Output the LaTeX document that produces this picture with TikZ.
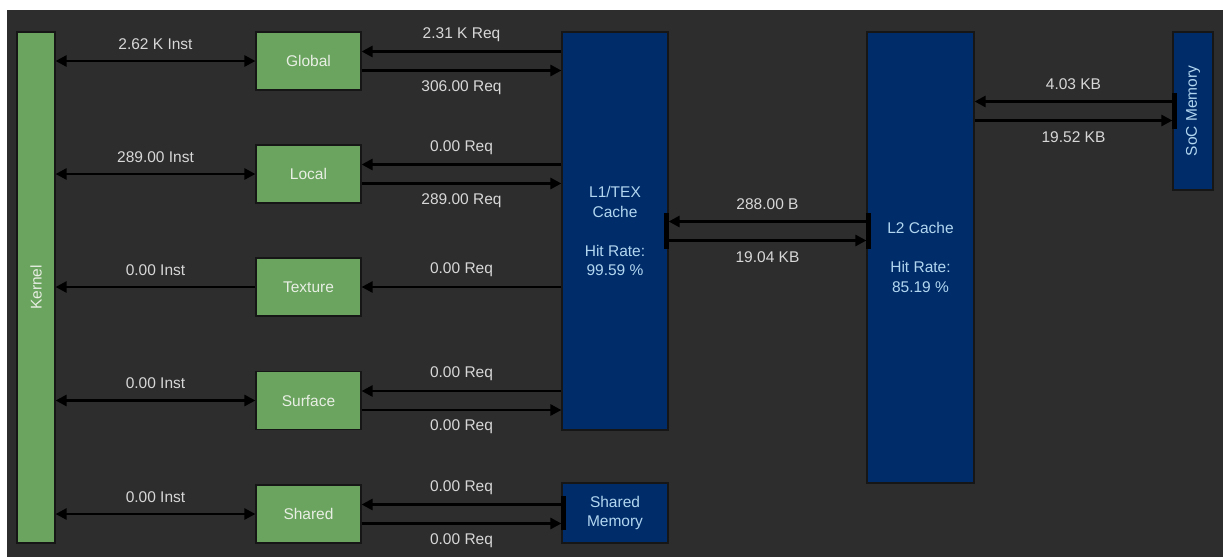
\documentclass[tikz,border=0pt]{standalone}
\usepackage{fontspec}
\setmainfont{Liberation Sans}
\usetikzlibrary{arrows.meta}
\definecolor{panel}{RGB}{45,45,45}
\definecolor{unit}{RGB}{106,164,94}
\definecolor{cache}{RGB}{0,45,105}
\definecolor{unit_text}{RGB}{232,238,228}
\definecolor{cache_text}{RGB}{178,214,240}
\definecolor{flow_text}{RGB}{215,215,215}
\definecolor{edge}{RGB}{22,22,22}

\tikzset{
  unitbox/.style={fill=unit, draw=edge, line width=1.2pt, text=unit_text,
    inner sep=0pt, minimum width=105pt, minimum height=58pt},
  cachebox/.style={fill=cache, draw=edge, line width=1.2pt, text=cache_text,
    align=center, inner sep=0pt},
  flow/.style={line width=2.6pt, black},
  flowlabel/.style={text=flow_text, midway},
  >={Triangle[length=11pt,width=11pt]}
}

\begin{document}
\begin{tikzpicture}[x=1pt, y=-1pt, font=\fontsize{15.5}{19.5}\selectfont]
            \useasboundingbox (0,0) rectangle (1223,557);
            \fill[white] (0,0) rectangle (1223,557);
            \fill[panel] (7,10) rectangle (1223,557);

            % units
            \node[unitbox, minimum width=38pt, minimum height=511pt] (kernel) at (36,287.5) {\rotatebox{90}{Kernel}};
            \node[unitbox] (global) at (308.5,61) {Global};
            \node[unitbox] (local) at (308.5,174) {Local};
            \node[unitbox] (texture) at (308.5,287) {Texture};
            \node[unitbox] (surface) at (308.5,400.5) {Surface};
            \node[unitbox] (shared) at (308.5,514) {Shared};

            % caches and memories
            \node[cachebox, minimum width=106pt, minimum height=398pt] (l1) at (615,231)
              {L1/TEX\\Cache\\[19.5pt]Hit Rate:\\99.59 \%};
            \node[cachebox, minimum width=106pt, minimum height=60pt] (shmem) at (615,513)
              {Shared\\Memory};
            \node[cachebox, minimum width=107pt, minimum height=451pt] (l2) at (920.5,257.5)
              {L2 Cache\\[19.5pt]Hit Rate:\\85.19 \%};
            \node[cachebox, minimum width=40pt, minimum height=158pt] (soc) at (1193,111)
              {\rotatebox{90}{SoC Memory}};

            % kernel <-> units
            \draw[flow, <->] (global.west -| kernel.east) -- node[flowlabel, yshift=17pt] {2.62 K Inst} (global.west);
            \draw[flow, <->] (local.west -| kernel.east) -- node[flowlabel, yshift=17pt] {289.00 Inst} (local.west);
            \draw[flow, ->] (texture.west) -- node[flowlabel, yshift=17pt] {0.00 Inst} (texture.west -| kernel.east);
            \draw[flow, <->] (surface.west -| kernel.east) -- node[flowlabel, yshift=17pt] {0.00 Inst} (surface.west);
            \draw[flow, <->] (shared.west -| kernel.east) -- node[flowlabel, yshift=17pt] {0.00 Inst} (shared.west);

            % units <-> L1/TEX
            \draw[flow, ->] ([yshift=9.5pt]global.east -| l1.west) -- node[flowlabel, yshift=17pt] {2.31 K Req} ([yshift=9.5pt]global.east);
            \draw[flow, ->] ([yshift=-9.5pt]global.east) -- node[flowlabel, yshift=-17pt] {306.00 Req} ([yshift=-9.5pt]global.east -| l1.west);
            \draw[flow, ->] ([yshift=9.5pt]local.east -| l1.west) -- node[flowlabel, yshift=17pt] {0.00 Req} ([yshift=9.5pt]local.east);
            \draw[flow, ->] ([yshift=-9.5pt]local.east) -- node[flowlabel, yshift=-17pt] {289.00 Req} ([yshift=-9.5pt]local.east -| l1.west);
            \draw[flow, ->] (texture.east -| l1.west) -- node[flowlabel, yshift=17pt] {0.00 Req} (texture.east);
            \draw[flow, ->] ([yshift=9.5pt]surface.east -| l1.west) -- node[flowlabel, yshift=17pt] {0.00 Req} ([yshift=9.5pt]surface.east);
            \draw[flow, ->] ([yshift=-9.5pt]surface.east) -- node[flowlabel, yshift=-17pt] {0.00 Req} ([yshift=-9.5pt]surface.east -| l1.west);

            % shared <-> shared memory
            \draw[flow, ->] ([yshift=9.5pt]shared.east -| shmem.west) -- node[flowlabel, yshift=17pt] {0.00 Req} ([yshift=9.5pt]shared.east);
            \draw[flow, ->] ([yshift=-9.5pt]shared.east) -- node[flowlabel, yshift=-17pt] {0.00 Req} ([yshift=-9.5pt]shared.east -| shmem.west);

            % L1/TEX <-> L2
            \draw[flow, ->] ([yshift=9.5pt]l1.east -| l2.west) -- node[flowlabel, yshift=17pt] {288.00 B} ([yshift=9.5pt]l1.east);
            \draw[flow, ->] ([yshift=-9.5pt]l1.east) -- node[flowlabel, yshift=-17pt] {19.04 KB} ([yshift=-9.5pt]l1.east -| l2.west);

            % L2 <-> SoC memory
            \draw[flow, ->] ([yshift=9.5pt]soc.west) -- node[flowlabel, yshift=17pt] {4.03 KB} ([yshift=9.5pt]soc.west -| l2.east);
            \draw[flow, ->] ([yshift=-9.5pt]soc.west -| l2.east) -- node[flowlabel, yshift=-17pt] {19.52 KB} ([yshift=-9.5pt]soc.west);

            % port bars
            \fill[black] ([xshift=-5pt,yshift=18pt]l1.east) rectangle ([yshift=-18pt]l1.east);
            \fill[black] ([yshift=18pt]l2.west |- l1.east) rectangle ([xshift=5pt,yshift=-18pt]l2.west |- l1.east);
            \fill[black] ([yshift=18pt]soc.west) rectangle ([xshift=5pt,yshift=-18pt]soc.west);
            \fill[black] ([yshift=17pt]shmem.west) rectangle ([xshift=5pt,yshift=-17pt]shmem.west);
        \end{tikzpicture}
\end{document}
